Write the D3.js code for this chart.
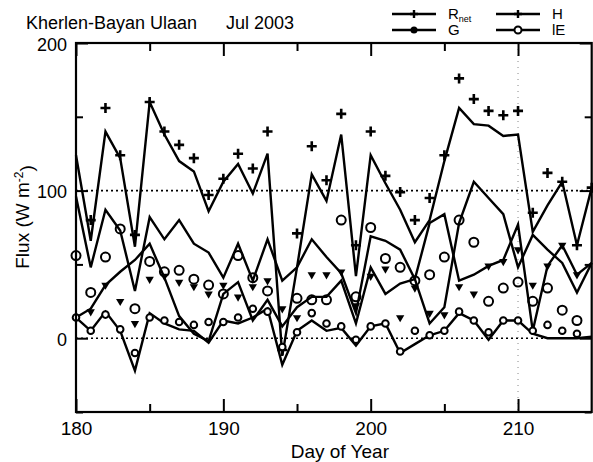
<!DOCTYPE html>
<html>
<head>
<meta charset="utf-8">
<script src="https://cdn.jsdelivr.net/npm/d3@7"></script>
<style>
body { margin: 0; background: #fff; }
svg { display: block; font-family: "Liberation Sans", Arial, sans-serif; }
</style>
</head>
<body>
<svg id="chart" width="593" height="462"></svg>
<script>
// day of year, Jul 2003
var days = [180, 181, 182, 183, 184, 185, 186, 187, 188, 189, 190, 191,
            192, 193, 194, 195, 196, 197, 198, 199, 200, 201, 202, 203,
            204, 205, 206, 207, 208, 209, 210, 211, 212, 213, 214, 215];

// modelled fluxes (lines), W m-2
var rnetLine = [124, 66, 140, 122, 62, 160, 138, 120, 113, 86, 106, 118,
                98, 125, -12, 48, 111, 93, 138, 42, 124, 105, 87, 65,
                80, 120, 156, 145, 144, 137, 138, 72, 90, 106, 63, 102];
var hLine    = [14, 20, 36, 45, 53, 64, 41, 15, 3, -2, 30, 38,
                12, 26, 8, 21, 28, 28, 39, 10, 48, 30, 37, 40,
                78, 84, 39, 43, 49, 53, 77, 5, 49, 63, 43, 51];
var gLine    = [14, 5, 18, 5, -22, 17, 10, 6, 5, -3, 12, 10,
                14, 20, -18, 5, 12, 5, 7, -5, 8, 10, -10, -4,
                2, 5, 17, 12, -1, 12, 12, 3, 0, 0, 0, 1];
var leLine   = [96, 48, 87, 73, 32, 82, 67, 80, 64, 58, 41, 64,
                39, 67, 39, 48, 67, 55, 44, 17, 69, 66, 60, 40,
                10, 21, 78, 106, 95, 84, 48, 70, 60, 51, 31, 51];

// observed fluxes (symbols)
var rnetObs = [null, 80, 156, 124, 70, 160, 140, 131, 122, 97, 108, 125,
               115, 140, -8, 71, 130, 107, 152, 63, 140, 110, 99, 80,
               95, 124, 176, 162, 154, 151, 154, 85, 112, 106, 63, 102];
var hObs    = [null, 18, 36, 25, 10, 40, 42, 38, 35, 30, 36, 28,
               35, 39, 20, 14, 43, 43, 45, 22, 42, 47, 14, 34,
               17, 16, 35, 30, 49, 52, 60, 36, 49, 63, 43, null];
var gObs    = [14, 5, 16, 6, -10, 14, 12, 11, 9, 11, 11, 14,
               20, 18, -6, 4, 17, 10, 8, -1, 8, 10, -9, 5,
               2, 5, 18, 12, 4, 12, 12, 5, 9, 5, 3, null];
var leObs   = [56, 31, 55, 74, 20, 52, 45, 46, 40, 36, 30, 56,
               41, 32, null, 27, 26, 26, 80, 28, 75, 54, 48, 39,
               43, 55, 80, 65, 25, 34, 38, 25, 34, 19, 12, null];

var xMajor = [180, 190, 200, 210];
var xMinor = [185, 195, 205];
var yMajor = [0, 100, 200];
var yMinor = [-50, 50, 150];
var gridY = [0, 100];

var svg = d3.select("#chart"),
    margin = {top: 43, right: 1.3, bottom: 50, left: 76},
    width = +svg.attr("width") - margin.left - margin.right,
    height = +svg.attr("height") - margin.top - margin.bottom,
    g = svg.append("g").attr("transform", "translate(" + margin.left + "," + margin.top + ")");

var x = d3.scaleLinear().domain([180, 215]).range([0, width]);
var y = d3.scaleLinear().domain([-50, 200]).range([height, 0]);

function pairs(vals) {
  return days.map(function(d, i) { return {day: d, v: vals[i]}; });
}

// dotted reference lines
g.selectAll(".gridy")
  .data(gridY)
  .enter().append("line")
  .attr("x1", 0).attr("x2", width)
  .attr("y1", function(d) { return y(d); })
  .attr("y2", function(d) { return y(d); })
  .attr("stroke", "#000")
  .attr("stroke-width", 1.6)
  .attr("stroke-dasharray", "2,3");

g.append("line")
  .attr("x1", x(210)).attr("x2", x(210))
  .attr("y1", 0).attr("y2", height)
  .attr("stroke", "#888")
  .attr("stroke-width", 1)
  .attr("stroke-dasharray", "1,5");

// axes, ticks pointing inward
function styleAxis(sel) {
  sel.select(".domain").remove();
  sel.selectAll(".tick line").attr("stroke", "#000").attr("stroke-width", 2);
  sel.selectAll(".tick text").attr("fill", "#000").style("font-size", "19px");
}

g.append("g")
  .attr("transform", "translate(0," + height + ")")
  .call(d3.axisBottom(x).tickValues(xMajor).tickSize(-13).tickPadding(10).tickFormat(d3.format("d")))
  .call(styleAxis);
g.append("g")
  .attr("transform", "translate(0," + height + ")")
  .call(d3.axisBottom(x).tickValues(xMinor).tickSize(-8).tickFormat(""))
  .call(styleAxis);
g.append("g")
  .call(d3.axisTop(x).tickValues(xMajor).tickSize(-13).tickFormat(""))
  .call(styleAxis);
g.append("g")
  .call(d3.axisTop(x).tickValues(xMinor).tickSize(-8).tickFormat(""))
  .call(styleAxis);

g.append("g")
  .call(d3.axisLeft(y).tickValues(yMajor).tickSize(-12).tickPadding(9).tickFormat(d3.format("d")))
  .call(styleAxis)
  .call(function(a) { a.selectAll(".tick text").style("font-size", "18px").attr("dy", "0.4em"); });
g.append("g")
  .call(d3.axisLeft(y).tickValues(yMinor).tickSize(-7).tickFormat(""))
  .call(styleAxis);
g.append("g")
  .attr("transform", "translate(" + width + ",0)")
  .call(d3.axisRight(y).tickValues(yMajor).tickSize(-12).tickFormat(""))
  .call(styleAxis);
g.append("g")
  .attr("transform", "translate(" + width + ",0)")
  .call(d3.axisRight(y).tickValues(yMinor).tickSize(-7).tickFormat(""))
  .call(styleAxis);

// model lines
var line = d3.line()
  .defined(function(d) { return d.v != null; })
  .x(function(d) { return x(d.day); })
  .y(function(d) { return y(d.v); });

[rnetLine, leLine, hLine, gLine].forEach(function(vals) {
  g.append("path")
    .datum(pairs(vals))
    .attr("d", line)
    .attr("fill", "none")
    .attr("stroke", "#000")
    .attr("stroke-width", 2.4)
    .attr("stroke-linejoin", "miter");
});

// observed symbols
function present(vals) {
  return pairs(vals).filter(function(d) { return d.v != null; });
}

g.selectAll(".rnet")
  .data(present(rnetObs))
  .enter().append("path")
  .attr("class", "rnet")
  .attr("transform", function(d) { return "translate(" + x(d.day) + "," + y(d.v) + ")"; })
  .attr("d", "M-5,0H5M0,-5V5")
  .attr("stroke", "#000")
  .attr("stroke-width", 2.6)
  .attr("fill", "none");

g.selectAll(".hobs")
  .data(present(hObs))
  .enter().append("path")
  .attr("class", "hobs")
  .attr("transform", function(d) { return "translate(" + x(d.day) + "," + y(d.v) + ") rotate(180)"; })
  .attr("d", d3.symbol(d3.symbolTriangle).size(30))
  .attr("fill", "#000");

g.selectAll(".leobs")
  .data(present(leObs))
  .enter().append("circle")
  .attr("class", "leobs")
  .attr("cx", function(d) { return x(d.day); })
  .attr("cy", function(d) { return y(d.v); })
  .attr("r", 4.5)
  .attr("fill", "none")
  .attr("stroke", "#000")
  .attr("stroke-width", 2);

g.selectAll(".gobs")
  .data(present(gObs))
  .enter().append("circle")
  .attr("class", "gobs")
  .attr("cx", function(d) { return x(d.day); })
  .attr("cy", function(d) { return y(d.v); })
  .attr("r", 3.3)
  .attr("fill", "#fff")
  .attr("stroke", "#000")
  .attr("stroke-width", 2);

// frame
g.append("rect")
  .attr("width", width)
  .attr("height", height)
  .attr("fill", "none")
  .attr("stroke", "#000")
  .attr("stroke-width", 2.2);

// titles
svg.append("text")
  .attr("x", 26)
  .attr("y", 29)
  .style("font-size", "18px")
  .text("Kherlen-Bayan Ulaan");
svg.append("text")
  .attr("x", 226)
  .attr("y", 29)
  .style("font-size", "18px")
  .text("Jul 2003");

svg.append("text")
  .attr("x", margin.left + width / 2 + 6)
  .attr("y", 458)
  .attr("text-anchor", "middle")
  .style("font-size", "19px")
  .text("Day of Year");

var yt = svg.append("text")
  .attr("transform", "translate(29,217) rotate(-90)")
  .attr("text-anchor", "middle")
  .style("font-size", "19px");
yt.append("tspan").text("Flux (W m");
yt.append("tspan").attr("dy", "-0.5em").style("font-size", "12px").text("-2");
yt.append("tspan").attr("dy", "0.5em").text(")");

// legend
var legend = [
  {name: "R", sub: "net", lx: 392, ly: 14, sym: "plus"},
  {name: "G", sub: "", lx: 392, ly: 30, sym: "dot"},
  {name: "H", sub: "", lx: 496, ly: 14, sym: "plus"},
  {name: "lE", sub: "", lx: 496, ly: 30, sym: "ring"}
];
var lg = svg.append("g");
legend.forEach(function(l) {
  lg.append("line")
    .attr("x1", l.lx).attr("x2", l.lx + 44)
    .attr("y1", l.ly).attr("y2", l.ly)
    .attr("stroke", "#000").attr("stroke-width", 2.4);
  var cx = l.lx + 22;
  if (l.sym === "plus") {
    lg.append("path")
      .attr("transform", "translate(" + cx + "," + l.ly + ")")
      .attr("d", "M-4,0H4M0,-4V4")
      .attr("stroke", "#000").attr("stroke-width", 2.4);
  } else if (l.sym === "dot") {
    lg.append("circle").attr("cx", cx).attr("cy", l.ly).attr("r", 3.5).attr("fill", "#000");
  } else {
    lg.append("circle").attr("cx", cx).attr("cy", l.ly).attr("r", 3.5)
      .attr("fill", "#fff").attr("stroke", "#000").attr("stroke-width", 2);
  }
  var t = lg.append("text")
    .attr("x", l.lx + 56)
    .attr("y", l.ly + 5)
    .style("font-size", "15px")
    .text(l.name);
  if (l.sub) {
    t.append("tspan").attr("dy", "3").style("font-size", "9px").text(l.sub);
  }
});
</script>
</body>
</html>
